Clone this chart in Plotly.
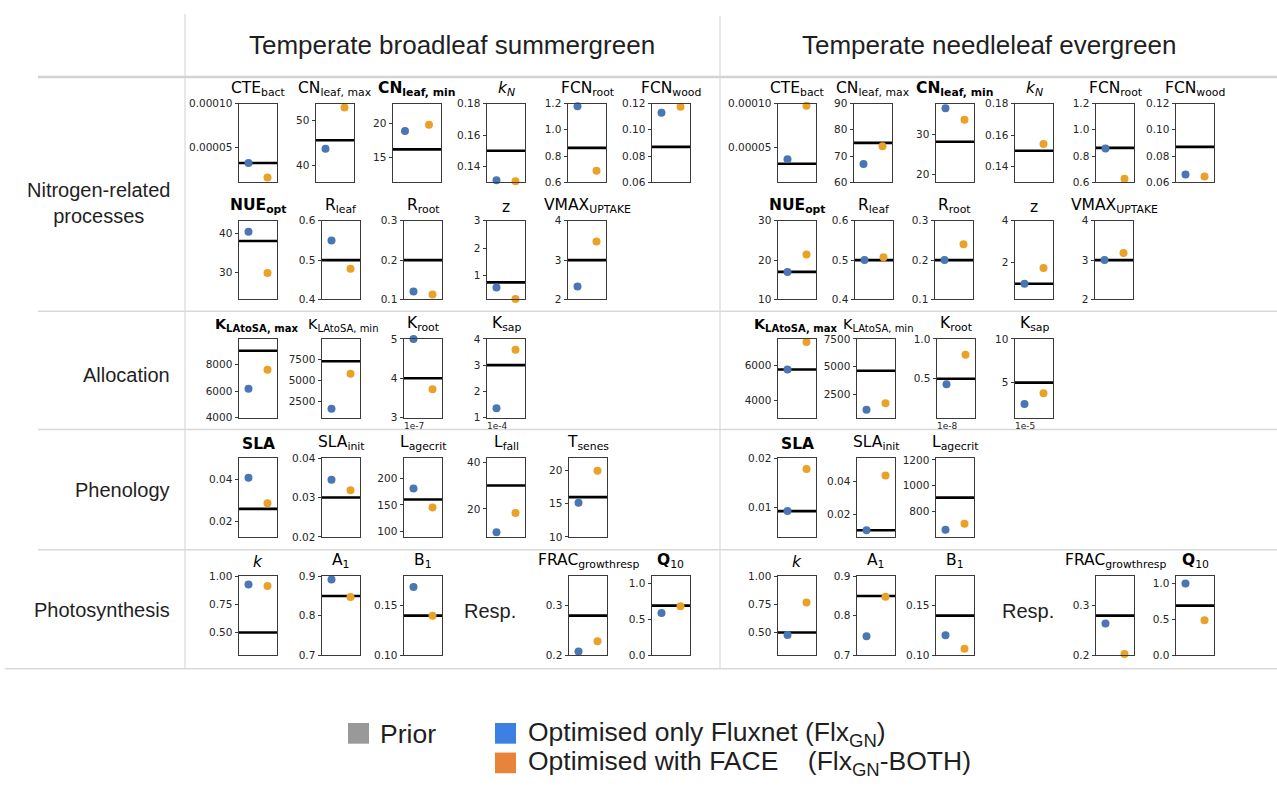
import plotly.graph_objects as go

W, H = 1277, 794

BLUE = "#4a76b4"
ORANGE = "#e9a128"
LEG_GRAY = "#999999"
LEG_BLUE = "#3d80e3"
LEG_ORANGE = "#e8843a"

# ---------------------------------------------------------------- data
TITLES = {
    "CTE_bact": "CTE<sub>bact</sub>",
    "CN_leaf_max": "CN<sub>leaf, max</sub>",
    "CN_leaf_min": "<b>CN<sub>leaf, min</sub></b>",
    "k_N": "<i>k<sub>N</sub></i>",
    "FCN_root": "FCN<sub>root</sub>",
    "FCN_wood": "FCN<sub>wood</sub>",
    "NUE_opt": "<b>NUE<sub>opt</sub></b>",
    "R_leaf": "R<sub>leaf</sub>",
    "R_root": "R<sub>root</sub>",
    "z": "z",
    "VMAX_uptake": "VMAX<sub>UPTAKE</sub>",
    "K_LAtoSA_max": "<b>K<sub>LAtoSA, max</sub></b>",
    "K_LAtoSA_min": "K<sub>LAtoSA, min</sub>",
    "K_root": "K<sub>root</sub>",
    "K_sap": "K<sub>sap</sub>",
    "SLA": "<b>SLA</b>",
    "SLA_init": "SLA<sub>init</sub>",
    "L_agecrit": "L<sub>agecrit</sub>",
    "L_fall": "L<sub>fall</sub>",
    "T_senes": "T<sub>senes</sub>",
    "k": "<i>k</i>",
    "A1": "A<sub>1</sub>",
    "B1": "B<sub>1</sub>",
    "FRAC_growthresp": "FRAC<sub>growthresp</sub>",
    "Q10": "<b>Q</b><sub>10</sub>",
}

PFT_NAMES = ["Temperate broadleaf summergreen", "Temperate needleleaf evergreen"]
GROUP_NAMES = ["Nitrogen-related<br>processes", "Allocation", "Phenology", "Photosynthesis"]
RESP_LABEL = "Resp."

# parameter rows shown for each plant functional type
TBS_ROWS = [
    ["CTE_bact", "CN_leaf_max", "CN_leaf_min", "k_N", "FCN_root", "FCN_wood"],
    ["NUE_opt", "R_leaf", "R_root", "z", "VMAX_uptake"],
    ["K_LAtoSA_max", "K_LAtoSA_min", "K_root", "K_sap"],
    ["SLA", "SLA_init", "L_agecrit", "L_fall", "T_senes"],
    ["k", "A1", "B1", "FRAC_growthresp", "Q10"],
]
TNE_ROWS = [
    ["CTE_bact", "CN_leaf_max", "CN_leaf_min", "k_N", "FCN_root", "FCN_wood"],
    ["NUE_opt", "R_leaf", "R_root", "z", "VMAX_uptake"],
    ["K_LAtoSA_max", "K_LAtoSA_min", "K_root", "K_sap"],
    ["SLA", "SLA_init", "L_agecrit"],
    ["k", "A1", "B1", "FRAC_growthresp", "Q10"],
]

# Temperate broadleaf summergreen (order follows TBS_ROWS)
TBS_PRIOR = [3.2e-5, 45.6, 16.2, 0.150, 0.862, 0.087,
             38.0, 0.50, 0.20, 0.76, 3.0,
             9040, 7300, 4.0e-7, 3.0e-4,
             0.026, 0.030, 160, 30.0, 16.0,
             0.50, 0.85, 0.14, 0.28, 0.69]
TBS_FLX = [3.2e-5, 43.7, 18.9, 0.1313, 1.18, 0.113,
           40.4, 0.55, 0.12, 0.58, 2.33,
           6170, 1640, 5.0e-7, 1.36e-4,
           0.041, 0.0345, 181, 10.0, 15.15,
           0.927, 0.892, 0.169, 0.207, 0.588]
TBS_BOTH = [1.55e-5, 53.0, 19.8, 0.1306, 0.688, 0.1175,
            29.8, 0.478, 0.113, 0.155, 3.475,
            7600, 5820, 3.72e-7, 3.59e-4,
            0.0287, 0.0318, 145, 18.2, 20.0,
            0.913, 0.8475, 0.140, 0.228, 0.68]
TBS_YLIM = [(1e-5, 1e-4), (36.1, 53.9), (11.4, 22.9), (0.13, 0.18), (0.6, 1.2), (0.06, 0.12),
            (23.0, 43.2), (0.4, 0.6), (0.1, 0.3), (0.14, 3.0), (2.0, 4.0),
            (4000, 9930), (590, 9960), (3e-7, 5e-7), (1e-4, 4e-4),
            (0.0126, 0.0504), (0.02, 0.04), (89, 239), (8.0, 41.8), (10.0, 21.9),
            (0.30, 1.00), (0.7, 0.9), (0.10, 0.18), (0.20, 0.36), (0.0, 1.1)]
TBS_TICKS = [["0.00005", "0.00010"], ["40", "50"], ["15", "20"], ["0.14", "0.16", "0.18"],
             ["0.6", "0.8", "1.0", "1.2"], ["0.06", "0.08", "0.10", "0.12"],
             ["30", "40"], ["0.4", "0.5", "0.6"], ["0.1", "0.2", "0.3"], ["1", "2", "3"], ["2", "3", "4"],
             ["4000", "6000", "8000"], ["2500", "5000", "7500"], ["3", "4", "5"], ["1", "2", "3", "4"],
             ["0.02", "0.04"], ["0.02", "0.03", "0.04"], ["100", "150", "200"], ["20", "40"], ["10", "15", "20"],
             ["0.50", "0.75", "1.00"], ["0.7", "0.8", "0.9"], ["0.10", "0.15"], ["0.2", "0.3"], ["0.0", "0.5", "1.0"]]
TBS_TICK_EXP = {"K_root": -7, "K_sap": -4}

# Temperate needleleaf evergreen (order follows TNE_ROWS)
TNE_PRIOR = [3.2e-5, 75.0, 28.2, 0.150, 0.862, 0.087,
             17.0, 0.50, 0.20, 1.0, 3.0,
             5755, 4610, 0.5e-8, 5.0e-5,
             0.0093, 0.0103, 908,
             0.50, 0.85, 0.14, 0.28, 0.69]
TNE_FLX = [3.7e-5, 67.0, 36.7, 0.1297, 0.858, 0.066,
           17.0, 0.50, 0.20, 1.0, 3.0,
           5755, 1070, 0.43e-8, 2.56e-5,
           0.0093, 0.0103, 660,
           0.477, 0.748, 0.120, 0.264, 1.0]
TNE_BOTH = [9.75e-5, 73.75, 33.75, 0.1543, 0.6275, 0.0645,
            21.4, 0.5075, 0.24, 1.75, 3.18,
            7320, 1670, 0.80e-8, 3.8e-5,
            0.0178, 0.0434, 706,
            0.767, 0.848, 0.1063, 0.202, 0.486]
TNE_YLIM = [(1.1e-5, 1e-4), (60, 90), (17.9, 37.9), (0.13, 0.18), (0.6, 1.2), (0.06, 0.12),
            (10, 30), (0.4, 0.6), (0.1, 0.3), (0.25, 4.0), (2.0, 4.0),
            (3000, 7500), (360, 7500), (0.01e-8, 1.0e-8), (1e-5, 10e-5),
            (0.0041, 0.02), (0.0063, 0.054), (604, 1215),
            (0.30, 1.00), (0.7, 0.9), (0.10, 0.18), (0.20, 0.36), (0.0, 1.1)]
TNE_TICKS = [["0.00005", "0.00010"], ["60", "70", "80", "90"], ["20", "30"], ["0.14", "0.16", "0.18"],
             ["0.6", "0.8", "1.0", "1.2"], ["0.06", "0.08", "0.10", "0.12"],
             ["10", "20", "30"], ["0.4", "0.5", "0.6"], ["0.1", "0.2", "0.3"], ["2", "4"], ["2", "3", "4"],
             ["4000", "6000"], ["2500", "5000", "7500"], ["0.5", "1.0"], ["5", "10"],
             ["0.01", "0.02"], ["0.02", "0.04"], ["800", "1000", "1200"],
             ["0.50", "0.75", "1.00"], ["0.7", "0.8", "0.9"], ["0.10", "0.15"], ["0.2", "0.3"], ["0.0", "0.5", "1.0"]]
TNE_TICK_EXP = {"K_root": -8, "K_sap": -5}

LEGEND_LABELS = ["Prior",
                 "Optimised only Fluxnet (Flx<sub>GN</sub>)",
                 "Optimised with FACE\u00a0\u00a0\u00a0\u00a0(Flx<sub>GN</sub>-BOTH)"]

# ---------------------------------------------------------------- layout (pixels)
PANEL_W, PANEL_H = 38, 80
ROW_TOP = [99, 218, 338, 459, 579]
TBS_LEFT = [[239, 316, 393, 487, 568, 652], [239, 322, 404, 487, 568],
            [239, 322, 404, 487], [239, 322, 404, 487, 569], [239, 322, 404, 569, 652]]
TNE_LEFT = [[778, 854, 936, 1015, 1096, 1176], [778, 855, 935, 1015, 1095],
            [778, 857, 937, 1015], [778, 857, 936], [778, 857, 936, 1096, 1176]]
WIDE = {(0, 0, 2): 48}  # (pft, row, col) -> wider panel
SMALL_TITLES = {"K_LAtoSA_max", "K_LAtoSA_min"}  # long neighbouring titles


def px(x):
    return x / W


def py(y):
    return 1 - y / H


fig = go.Figure()
layout = {}
annotations = []
shapes = []

TICK_FONT = dict(family="DejaVu Sans", size=10.5, color="#262626")
TITLE_FONT = dict(family="DejaVu Sans", size=15.5, color="#000000")
SMALL_TITLE_FONT = dict(family="DejaVu Sans", size=14.3, color="#000000")
TEXT_FONT = "Liberation Sans, Arial, sans-serif"

pfts = [
    (TBS_ROWS, TBS_PRIOR, TBS_FLX, TBS_BOTH, TBS_YLIM, TBS_TICKS, TBS_TICK_EXP, TBS_LEFT),
    (TNE_ROWS, TNE_PRIOR, TNE_FLX, TNE_BOTH, TNE_YLIM, TNE_TICKS, TNE_TICK_EXP, TNE_LEFT),
]

n = 0
for p, (rows, prior, flx, both, ylim, ticks, texp, lefts) in enumerate(pfts):
    k = 0
    for r, row in enumerate(rows):
        for c, name in enumerate(row):
            n += 1
            xid = "x" if n == 1 else f"x{n}"
            yid = "y" if n == 1 else f"y{n}"
            x0 = lefts[r][c]
            w = WIDE.get((p, r, c), PANEL_W)
            y0 = ROW_TOP[r]
            exp = texp.get(name)
            scale = 10.0 ** exp if exp is not None else 1.0
            tv = [float(t) * scale for t in ticks[k]]

            fig.add_trace(go.Scatter(x=[-0.5, 1.5], y=[prior[k], prior[k]], mode="lines",
                                     line=dict(color="#000000", width=2.6),
                                     xaxis=xid, yaxis=yid, showlegend=False, hoverinfo="skip"))
            fig.add_trace(go.Scatter(x=[0], y=[flx[k]], mode="markers",
                                     marker=dict(color=BLUE, size=8), cliponaxis=False,
                                     xaxis=xid, yaxis=yid, showlegend=False))
            fig.add_trace(go.Scatter(x=[1], y=[both[k]], mode="markers",
                                     marker=dict(color=ORANGE, size=8), cliponaxis=False,
                                     xaxis=xid, yaxis=yid, showlegend=False))

            kx = "xaxis" if n == 1 else f"xaxis{n}"
            ky = "yaxis" if n == 1 else f"yaxis{n}"
            layout[kx] = dict(domain=[px(x0), px(x0 + w)], range=[-0.5, 1.5], anchor=yid,
                              showticklabels=False, ticks="", showgrid=False, zeroline=False,
                              showline=True, mirror=True, linecolor="#3a3a3a", linewidth=1,
                              fixedrange=True)
            layout[ky] = dict(domain=[py(y0 + PANEL_H), py(y0)], range=list(ylim[k]), anchor=xid,
                              tickvals=tv, ticktext=ticks[k], ticks="outside", ticklen=3.5,
                              tickwidth=1, tickcolor="#3a3a3a", tickfont=TICK_FONT,
                              showgrid=False, zeroline=False, showline=True, mirror=True,
                              linecolor="#3a3a3a", linewidth=1, fixedrange=True)

            tfont = SMALL_TITLE_FONT if name in SMALL_TITLES else TITLE_FONT
            tx = x0 + w / 2
            if name == "K_LAtoSA_max":
                tx -= 2
            elif name == "K_LAtoSA_min":
                tx += 2
            annotations.append(dict(text=TITLES[name], x=px(tx), y=py(y0 - 3),
                                    xref="paper", yref="paper", xanchor="center", yanchor="bottom",
                                    showarrow=False, font=tfont))
            if exp is not None:
                annotations.append(dict(text=f"1e{exp}", x=px(x0 - 2), y=py(y0 + PANEL_H + 1),
                                        xref="paper", yref="paper", xanchor="left", yanchor="top",
                                        showarrow=False, font=dict(family="DejaVu Sans", size=9,
                                                                   color="#262626")))
            k += 1

# column headers
for name, cx in zip(PFT_NAMES, [452, 989]):
    annotations.append(dict(text=name, x=px(cx), y=py(40), xref="paper", yref="paper",
                            xanchor="center", yanchor="middle", showarrow=False,
                            font=dict(family=TEXT_FONT, size=26, color="#1f1f1f")))

# row group labels
for name, cy in zip(GROUP_NAMES, [200, 375, 491, 613]):
    annotations.append(dict(text=name, x=px(172), y=py(cy), xref="paper", yref="paper",
                            xanchor="right", yanchor="middle", align="center", showarrow=False,
                            font=dict(family=TEXT_FONT, size=20, color="#1f1f1f")))

# respiration sub-labels
for cx in [490, 1028]:
    annotations.append(dict(text=RESP_LABEL, x=px(cx), y=py(614), xref="paper", yref="paper",
                            xanchor="center", yanchor="middle", showarrow=False,
                            font=dict(family=TEXT_FONT, size=20, color="#1f1f1f")))

# table rules
RULE = "#d9d9d9"
shapes.append(dict(type="line", xref="paper", yref="paper", x0=px(185), x1=px(185), y0=py(8), y1=py(673),
                   line=dict(color=RULE, width=1.2)))
shapes.append(dict(type="line", xref="paper", yref="paper", x0=px(720), x1=px(720), y0=py(10), y1=py(673),
                   line=dict(color=RULE, width=1.2)))
shapes.append(dict(type="line", xref="paper", yref="paper", x0=px(38), x1=1, y0=py(72), y1=py(72),
                   line=dict(color="#d4d4d4", width=2.5)))
for yy in [310, 430, 552]:
    shapes.append(dict(type="line", xref="paper", yref="paper", x0=px(38), x1=1, y0=py(yy), y1=py(yy),
                       line=dict(color=RULE, width=1.5)))
shapes.append(dict(type="line", xref="paper", yref="paper", x0=px(5), x1=1, y0=py(673), y1=py(673),
                   line=dict(color=RULE, width=1.5)))

# legend
for (lx, ly), col in zip([(348, 728), (495, 728), (495, 758)], [LEG_GRAY, LEG_BLUE, LEG_ORANGE]):
    shapes.append(dict(type="rect", xref="paper", yref="paper", x0=px(lx), x1=px(lx + 21),
                       y0=py(ly + 21), y1=py(ly), fillcolor=col, line=dict(width=0)))
for text, (tx, ty) in zip(LEGEND_LABELS, [(378, 739), (526, 739), (526, 769)]):
    annotations.append(dict(text=text, x=px(tx), y=py(ty), xref="paper", yref="paper",
                            xanchor="left", yanchor="middle", showarrow=False,
                            font=dict(family=TEXT_FONT, size=26.5, color="#1f1f1f")))

fig.update_layout(**layout)
fig.update_layout(width=W, height=H, margin=dict(l=0, r=0, t=0, b=0),
                  paper_bgcolor="white", plot_bgcolor="white",
                  annotations=annotations, shapes=shapes, showlegend=False)

fig.write_html("out.html", config={"displayModeBar": False})
